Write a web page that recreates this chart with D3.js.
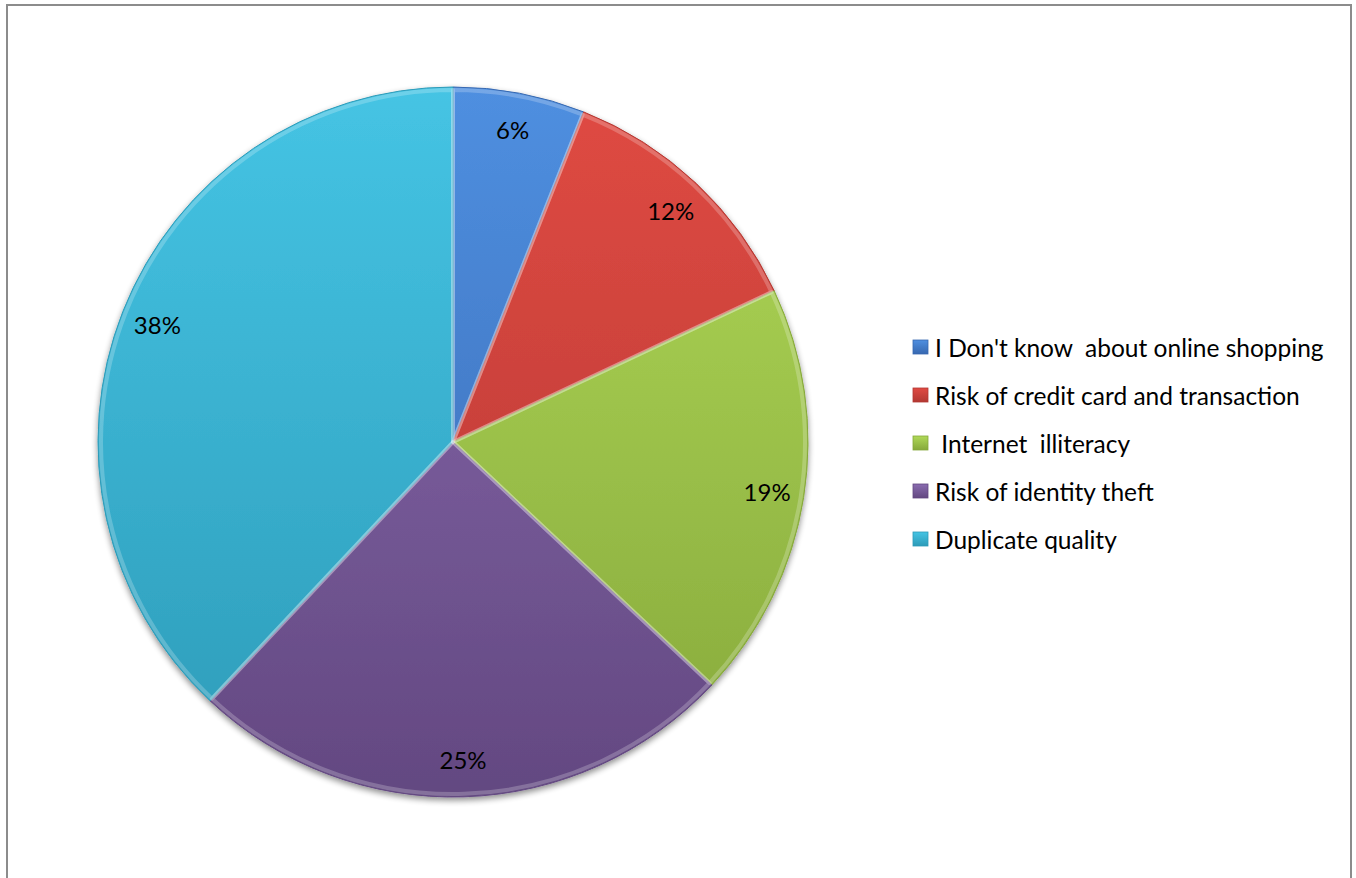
<!DOCTYPE html>
<html>
<head>
<meta charset="utf-8">
<script src="https://cdn.jsdelivr.net/npm/d3@7"></script>
<style>
  html, body { margin: 0; padding: 0; background: #fff; }
  svg text { font-family: Lato, "Open Sans", "Noto Sans", sans-serif; white-space: pre; }
</style>
</head>
<body>
<script>
// Reasons for not shopping online
const categories = [
  "I Don't know  about online shopping",
  "Risk of credit card and transaction",
  " Internet  illiteracy",
  "Risk of identity theft",
  "Duplicate quality"
];
const values = [6, 12, 19, 25, 38];
const labels = ["6%", "12%", "19%", "25%", "38%"];
const topColors = ["#4f8fe0", "#e04a43", "#b0d958", "#8a6cb0", "#45c4e4"];
const bottomColors = ["#3768b0", "#b23832", "#86a83b", "#634881", "#2d9bb8"];

const W = 1356, H = 878;
const cx = 453, cy = 442, R = 355;

const svg = d3.select("body").append("svg")
  .attr("width", W).attr("height", H);

// outer frame
svg.append("rect")
  .attr("x", 7).attr("y", 5).attr("width", W - 12).attr("height", H + 10)
  .attr("fill", "#fff").attr("stroke", "#8c8c8c").attr("stroke-width", 2);

const defs = svg.append("defs");
categories.forEach((c, i) => {
  const g = defs.append("linearGradient")
    .attr("id", "grad" + i)
    .attr("gradientUnits", "userSpaceOnUse")
    .attr("x1", 0).attr("y1", -R).attr("x2", 0).attr("y2", R);
  g.append("stop").attr("offset", "0%").attr("stop-color", topColors[i]);
  g.append("stop").attr("offset", "100%").attr("stop-color", bottomColors[i]);

  const lg = defs.append("linearGradient")
    .attr("id", "lgrad" + i)
    .attr("x1", 0).attr("y1", 0).attr("x2", 0).attr("y2", 1);
  lg.append("stop").attr("offset", "0%").attr("stop-color", topColors[i]);
  lg.append("stop").attr("offset", "100%").attr("stop-color", bottomColors[i]);
});

const shadow = defs.append("filter").attr("id", "shadow")
  .attr("x", "-10%").attr("y", "-10%").attr("width", "120%").attr("height", "120%");
shadow.append("feGaussianBlur").attr("in", "SourceAlpha").attr("stdDeviation", 3).attr("result", "b");
shadow.append("feOffset").attr("in", "b").attr("dx", 0).attr("dy", 3).attr("result", "o");
shadow.append("feComponentTransfer").attr("in", "o").attr("result", "s")
  .append("feFuncA").attr("type", "linear").attr("slope", 0.45);
const merge = shadow.append("feMerge");
merge.append("feMergeNode").attr("in", "s");
merge.append("feMergeNode").attr("in", "SourceGraphic");

const pie = d3.pie().sort(null).value(d => d);
const arcs = pie(values);
const arc = d3.arc().innerRadius(0).outerRadius(R);
const bevel = d3.arc().innerRadius(0).outerRadius(R - 3);
const labelArc = d3.arc().innerRadius(318).outerRadius(318);

const g = svg.append("g").attr("transform", `translate(${cx},${cy})`);

g.append("g").attr("filter", "url(#shadow)")
  .selectAll("path").data(arcs).join("path")
  .attr("d", arc)
  .attr("fill", (d, i) => `url(#grad${i})`)
  .attr("stroke", (d, i) => bottomColors[i])
  .attr("stroke-width", 1);

// soft bevel highlight along slice edges
g.append("g").selectAll("path").data(arcs).join("path")
  .attr("d", bevel)
  .attr("fill", "none")
  .attr("stroke", "#ffffff")
  .attr("stroke-opacity", 0.22)
  .attr("stroke-width", 4)
  .attr("stroke-linejoin", "round");

g.append("g").selectAll("text").data(arcs).join("text")
  .attr("transform", d => `translate(${labelArc.centroid(d)})`)
  .attr("text-anchor", "middle")
  .attr("dominant-baseline", "central")
  .attr("font-size", 24)
  .attr("fill", "#000")
  .text((d, i) => labels[i]);

// legend
const legendY = d3.scalePoint().domain(d3.range(categories.length)).range([347, 539]);
const legend = svg.append("g");
const items = legend.selectAll("g").data(categories).join("g")
  .attr("transform", (d, i) => `translate(913,${legendY(i)})`);
items.append("rect")
  .attr("x", 0).attr("y", -7).attr("width", 15).attr("height", 14)
  .attr("fill", (d, i) => `url(#lgrad${i})`)
  .attr("stroke", (d, i) => bottomColors[i]).attr("stroke-width", 0.8);
items.append("text")
  .attr("x", 22).attr("y", 0)
  .attr("dominant-baseline", "central")
  .attr("font-size", 24.5)
  .attr("fill", "#000")
  .text(d => d);
</script>
</body>
</html>
